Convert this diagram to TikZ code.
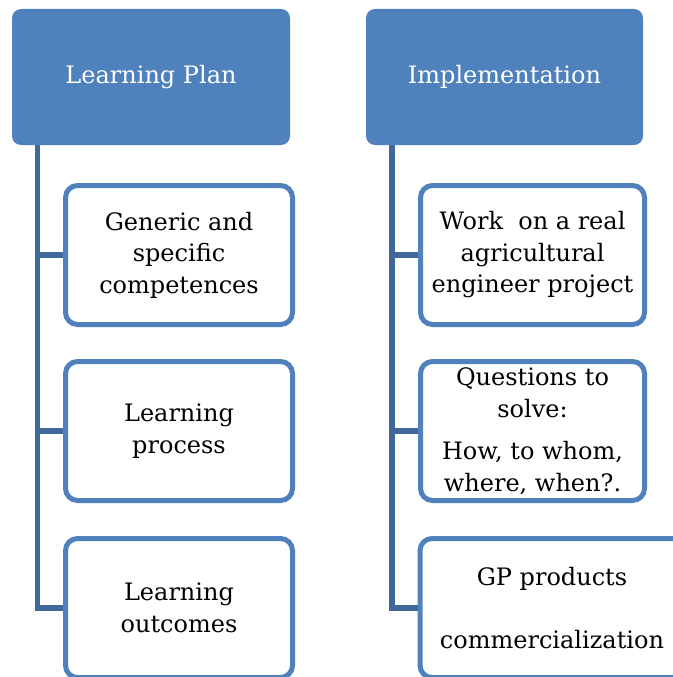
\documentclass[tikz,border=0pt]{standalone}
\usepackage{fontspec}
\setmainfont{DejaVu Serif}
\definecolor{hdr}{RGB}{79,129,189}
\definecolor{conn}{RGB}{65,104,155}
\begin{document}
\begin{tikzpicture}[x=1pt,y=-1pt,
  hdrbox/.style={fill=hdr,draw=none,rounded corners=9pt,text=white,minimum height=136pt,inner sep=0pt,font=\fontsize{24}{31.5}\selectfont,align=center},
  kidbox/.style={draw=hdr,line width=5pt,fill=white,rounded corners=12pt,minimum height=139pt,inner sep=0pt,font=\fontsize{24}{31.5}\selectfont,align=center},
  link/.style={draw=conn,line width=5.5pt}
]
\useasboundingbox (0,0) rectangle (672,677);
% headers
\node[hdrbox,minimum width=278pt] (lp) at (151,77) {Learning Plan};
\node[hdrbox,minimum width=277pt] (im) at (504.5,77) {Implementation};
% left children
\node[kidbox,minimum width=227pt] (l1) at (179,255) {Generic and\\specific\\competences};
\node[kidbox,minimum width=227pt] (l2) at (179,431) {Learning\\process};
\node[kidbox,minimum width=227pt] (l3) at (179,608) {Learning\\outcomes};
% right children
\node[kidbox,minimum width=224pt] (r1) at (532.5,255) {Work\ \ on a real\\agricultural\\engineer project};
\node[kidbox,minimum width=224pt] (r2) at (532.5,431) {Questions to\\solve:\\[11pt]How, to whom,\\where, when?.};
\node[kidbox,minimum width=264pt] (r3) at (552,608) {GP products\\[31pt]commercialization};
% connectors
\coordinate (lt) at ([xshift=25.7pt]lp.south west);
\coordinate (rt) at ([xshift=26pt]im.south west);
\draw[link] (lt) |- (l1.west);
\draw[link] (lt) |- (l2.west);
\draw[link] (lt) |- (l3.west);
\draw[link] (rt) |- (r1.west);
\draw[link] (rt) |- (r2.west);
\draw[link] (rt) |- (r3.west);
\end{tikzpicture}
\end{document}
